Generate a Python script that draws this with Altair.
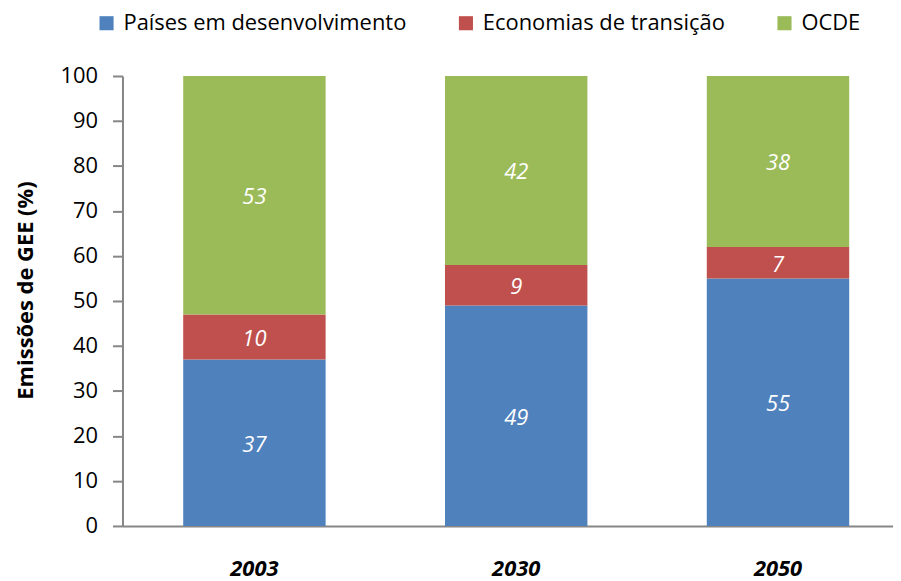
import altair as alt
import pandas as pd

years = ["2003", "2030", "2050"]
series = ["Países em desenvolvimento", "Economias de transição", "OCDE"]
paises = [37, 49, 55]
transicao = [10, 9, 7]
ocde = [53, 42, 38]
colors = ["#4F81BD", "#C0504D", "#9BBB59"]
y_ticks = list(range(0, 101, 10))

rows = []
for i, yr in enumerate(years):
    for k, (name, vals) in enumerate(zip(series, [paises, transicao, ocde])):
        rows.append({"ano": yr, "grupo": name, "valor": vals[i], "ordem": k})
df = pd.DataFrame(rows)

FONT = "Open Sans"
GRAY = "#868686"

base = alt.Chart(df).transform_stack(
    stack="valor",
    groupby=["ano"],
    as_=["y0", "y1"],
    sort=[alt.SortField("ordem", order="ascending")],
).transform_calculate(mid="(datum.y0 + datum.y1) / 2")

xscale = alt.Scale(paddingInner=0.456, paddingOuter=0.1996, align=0.581)

bars = base.mark_bar().encode(
    x=alt.X(
        "ano:N",
        sort=years,
        title=None,
        scale=xscale,
        axis=alt.Axis(
            labelAngle=0,
            labelFont=FONT,
            labelFontSize=22,
            labelFontWeight="bold",
            labelFontStyle="italic",
            labelColor="black",
            labelPadding=33,
            ticks=False,
            domainColor=GRAY,
            domainWidth=2,
        ),
    ),
    y=alt.Y(
        "y0:Q",
        scale=alt.Scale(domain=[0, 100], nice=False),
        title="Emissões de GEE (%)",
        axis=alt.Axis(
            values=y_ticks,
            grid=False,
            tickSize=10,
            tickColor=GRAY,
            tickWidth=2,
            domainColor=GRAY,
            domainWidth=2,
            labelFont=FONT,
            labelFontSize=22,
            labelColor="black",
            labelPadding=15,
            titleFont=FONT,
            titleFontSize=22,
            titleFontWeight="bold",
            titleColor="black",
            titleBaseline="alphabetic",
            titleAngle=270,
            titleX=-90,
            titleY=215,
        ),
    ),
    y2="y1:Q",
    color=alt.Color(
        "grupo:N",
        scale=alt.Scale(domain=series, range=colors),
        legend=alt.Legend(
            title=None,
            orient="none",
            legendX=-27,
            legendY=-64,
            direction="horizontal",
            symbolType="square",
            symbolSize=200,
            symbolStrokeWidth=0,
            symbolOpacity=1,
            labelFont=FONT,
            labelFontSize=22,
            labelColor="black",
            labelOffset=6,
            labelLimit=500,
            columnPadding=48,
            padding=0,
        ),
    ),
)

labels = base.mark_text(
    font=FONT, fontSize=22, fontStyle="italic", color="white", baseline="middle", dy=2
).encode(
    x=alt.X("ano:N", sort=years, scale=xscale),
    y=alt.Y("mid:Q"),
    text=alt.Text("valor:Q"),
)

chart = (
    alt.layer(bars, labels)
    .properties(
        width=774,
        height=452,
        autosize=alt.AutoSizeParams(type="none"),
        padding={"left": 115, "top": 67, "right": 0, "bottom": 54},
        background="white",
    )
    .configure_view(stroke=None)
)

chart.save("out.html", embed_options={"renderer": "svg", "actions": False})
